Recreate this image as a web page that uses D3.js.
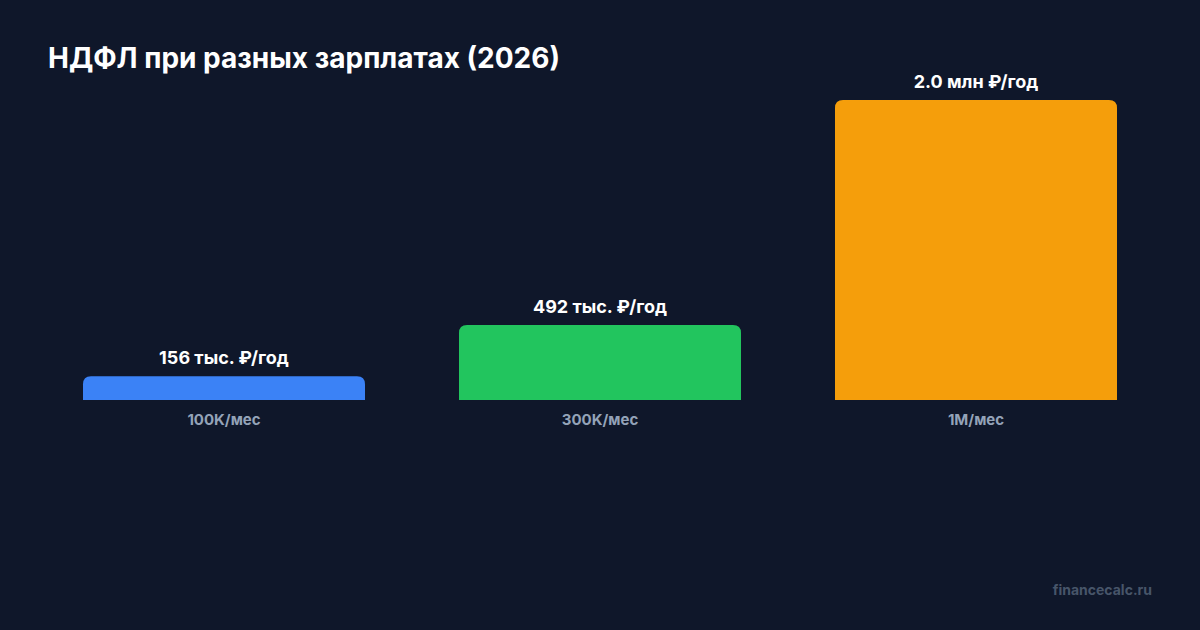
<!DOCTYPE html>
<html><head><meta charset="utf-8">
<script src="https://cdn.jsdelivr.net/npm/d3@7"></script>
<style>html,body{margin:0;padding:0;background:#0f172a;}svg{display:block;}</style>
</head><body>
<svg id="c" width="1200" height="630"></svg>
<script>
const categories = ["100K/мес", "300K/мес", "1M/мес"];
const values = [156, 492, 1970]; // тыс. ₽ в год
const valueLabels = ["156 тыс. ₽/год", "492 тыс. ₽/год", "2.0 млн ₽/год"];
const colors = ["#3b82f6", "#22c55e", "#f59e0b"];

const svg = d3.select("#c");
const W = 1200, H = 630;
svg.append("rect").attr("width", W).attr("height", H).attr("fill", "#0f172a");

svg.append("text").attr("x", 48).attr("y", 68)
  .attr("font-family", "Inter, sans-serif").attr("font-weight", 700)
  .attr("font-size", 28).attr("fill", "#ffffff")
  .text("НДФЛ при разных зарплатах (2026)");

const x = d3.scaleBand().domain(categories).range([36, 1164]).paddingInner(0.25).paddingOuter(0.125);
const y = d3.scaleLinear().domain([0, d3.max(values)]).range([400, 100]);

function topRounded(x0, y0, w, h, r) {
  r = Math.min(r, h, w / 2);
  return `M${x0},${y0 + h}V${y0 + r}Q${x0},${y0} ${x0 + r},${y0}H${x0 + w - r}Q${x0 + w},${y0} ${x0 + w},${y0 + r}V${y0 + h}Z`;
}

const g = svg.append("g");
categories.forEach((c, i) => {
  const bx = x(c), bw = x.bandwidth(), by = y(values[i]), bh = y(0) - y(values[i]);
  g.append("path").attr("d", topRounded(bx, by, bw, bh, 8)).attr("fill", colors[i]);
  g.append("text").attr("x", bx + bw / 2).attr("y", by - 12)
    .attr("text-anchor", "middle").attr("font-family", "Inter, sans-serif")
    .attr("font-weight", 700).attr("font-size", 18).attr("fill", "#ffffff")
    .text(valueLabels[i]);
  g.append("text").attr("x", bx + bw / 2).attr("y", y(0) + 25)
    .attr("text-anchor", "middle").attr("font-family", "Inter, sans-serif")
    .attr("font-weight", 700).attr("font-size", 15).attr("fill", "#94a3b8")
    .text(c);
});

svg.append("text").attr("x", 1152).attr("y", 595).attr("text-anchor", "end")
  .attr("font-family", "Inter, sans-serif").attr("font-weight", 700)
  .attr("font-size", 14).attr("fill", "#475569").text("financecalc.ru");
</script>
</body></html>
